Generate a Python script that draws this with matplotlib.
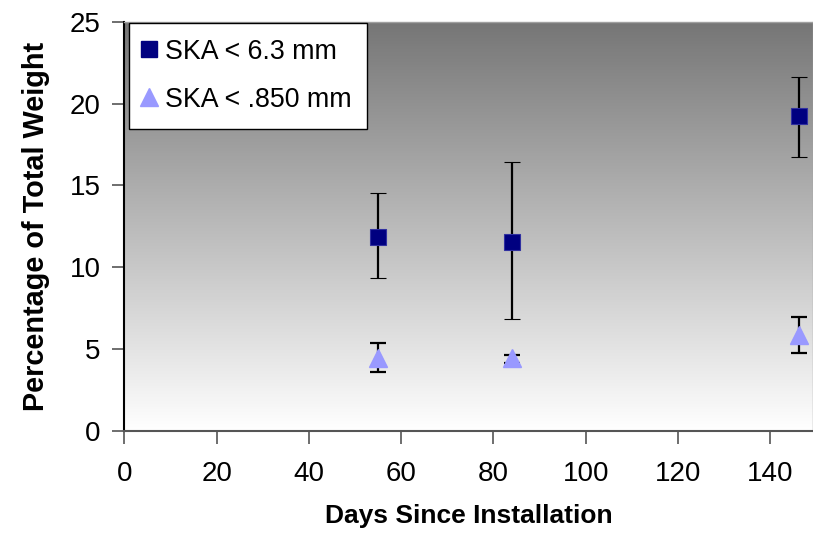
import numpy as np
import matplotlib
matplotlib.use("Agg")
import matplotlib.pyplot as plt
from matplotlib.colors import LinearSegmentedColormap
from matplotlib.lines import Line2D

days = [55, 84, 146.3]
coarse = [11.86, 11.55, 19.25]
coarse_hi = [14.51, 16.44, 21.64]
coarse_lo = [9.33, 6.81, 16.71]
fine = [4.46, 4.46, 5.83]
fine_hi = [5.34, 4.63, 6.97]
fine_lo = [3.57, 4.12, 4.73]
labels = ["SKA < 6.3 mm", "SKA < .850 mm"]
xticks = [0, 20, 40, 60, 80, 100, 120, 140]
yticks = [0, 5, 10, 15, 20, 25]

plt.rcParams['font.family'] = ['Liberation Sans', 'DejaVu Sans']

fig = plt.figure(figsize=(8.13, 5.39), dpi=100)
ax = fig.add_axes([0.1531, 0.2009, 0.8469, 0.7588])

cmap = LinearSegmentedColormap.from_list("g", ["#ffffff", "#767676"])
grad = np.linspace(0, 1, 256).reshape(-1, 1)
ax.imshow(grad, extent=[0, 1, 0, 1], transform=ax.transAxes, cmap=cmap,
          aspect='auto', origin='lower', zorder=0)

c_err = [np.array(coarse) - np.array(coarse_lo), np.array(coarse_hi) - np.array(coarse)]
f_err = [np.array(fine) - np.array(fine_lo), np.array(fine_hi) - np.array(fine)]

ax.errorbar(days, coarse, yerr=c_err, fmt='s', color='#000080', ms=11,
            mec='#3030a0', mew=0.8, ecolor='black', elinewidth=1.6, capsize=6,
            capthick=1.6, zorder=3)
ax.errorbar(days, fine, yerr=f_err, fmt='^', color='#9999ff', ms=12.5,
            mec='#9999ff', ecolor='black', elinewidth=1.6, capsize=6,
            capthick=1.6, zorder=3)

ax.set_xlim(0, 149.3)
ax.set_ylim(0, 25)
ax.set_xticks(xticks)
ax.set_yticks(yticks)
ax.tick_params(axis='both', labelsize=20, direction='out', length=9, width=1.2, color='#555555')
ax.tick_params(axis='x', pad=13)
ax.tick_params(axis='y', pad=8)

for s in ['top', 'right']:
    ax.spines[s].set_color('#a0a0a0')
    ax.spines[s].set_linewidth(1)
ax.spines['left'].set_color('black')
ax.spines['left'].set_linewidth(1.5)
ax.spines['bottom'].set_color('#555555')
ax.spines['bottom'].set_linewidth(1.5)

ax.set_xlabel("Days Since Installation", fontsize=19, fontweight='bold', labelpad=12)
ax.set_ylabel("Percentage of Total Weight", fontsize=20.8, fontweight='bold', labelpad=14)

h1 = Line2D([], [], marker='s', ls='none', color='#000080', ms=11)
h2 = Line2D([], [], marker='^', ls='none', color='#9999ff', ms=12.5)
leg = ax.legend([h1, h2], labels, loc='upper left', bbox_to_anchor=(0.006, 0.998),
                fontsize=19.3, frameon=True, fancybox=False, framealpha=1,
                edgecolor='black', handletextpad=0.45, handlelength=0.3,
                borderpad=0.6, labelspacing=0.82, borderaxespad=0)
leg.get_frame().set_linewidth(1)

fig.savefig("out.png", dpi=100)
